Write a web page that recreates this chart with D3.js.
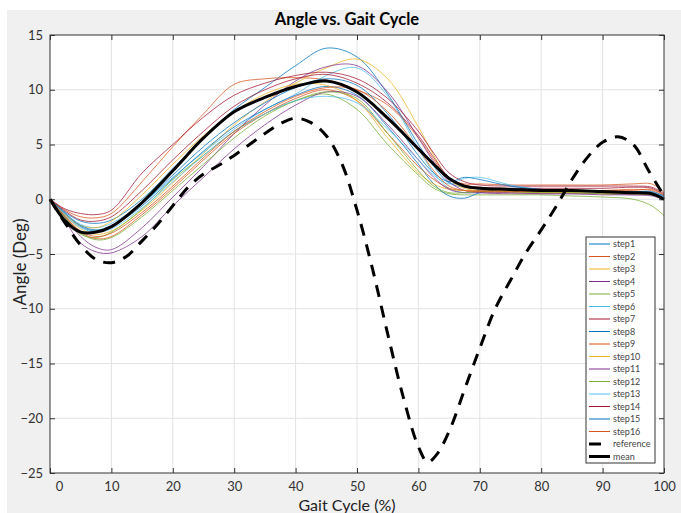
<!DOCTYPE html>
<html>
<head>
<meta charset="utf-8">
<script src="https://cdn.jsdelivr.net/npm/d3@7"></script>
<style>
body { margin: 0; background: #fff; }
text { font-family: Lato, "Open Sans", sans-serif; }
</style>
</head>
<body>
<div id="chart"></div>
<script>
// gait cycle sample points (%) for the steps and the mean
const gait = [0, 2.5, 5, 7.5, 10, 15, 20, 25, 30, 35, 40, 45, 50, 55, 60, 62.5, 65, 67.5, 70, 75, 80, 85, 90, 95, 98, 100];

const step1  = [0, -1.2, -2.0, -2.2, -1.9, 0.0, 2.8, 5.6, 8.2, 10.2, 12.2, 13.8, 13.0, 9.6, 5.0, 3.0, 1.5, 1.1, 1.0, 0.9, 0.9, 0.8, 0.7, 0.7, 0.6, 0.2];
const step2  = [0, -1.0, -1.6, -1.7, -1.3, 1.6, 4.8, 7.8, 10.5, 11.0, 11.1, 10.9, 10.0, 8.6, 5.6, 3.6, 1.9, 1.4, 1.4, 1.3, 1.3, 1.3, 1.3, 1.4, 1.4, 0.6];
const step3  = [0, -1.5, -2.7, -3.2, -2.9, -1.0, 1.5, 4.2, 6.8, 8.9, 10.6, 12.0, 12.8, 11.0, 6.6, 4.0, 1.8, 1.0, 0.8, 0.7, 0.6, 0.6, 0.5, 0.5, 0.4, 0.0];
const step4  = [0, -1.7, -3.4, -4.4, -4.6, -2.6, 0.2, 3.0, 6.0, 8.6, 10.8, 12.1, 12.2, 9.8, 5.6, 3.4, 1.6, 0.8, 0.6, 0.5, 0.5, 0.5, 0.4, 0.4, 0.3, 0.0];
const step5  = [0, -1.8, -3.2, -3.5, -3.0, -0.9, 1.8, 4.0, 6.2, 7.8, 9.0, 9.6, 8.2, 5.0, 2.2, 1.0, 0.5, 0.4, 0.4, 0.4, 0.4, 0.3, 0.2, 0.0, -0.6, -1.5];
const step6  = [0, -1.3, -2.3, -2.6, -2.2, -0.4, 2.0, 4.3, 6.4, 8.2, 9.6, 11.3, 12.0, 9.4, 4.6, 2.4, 1.0, 0.6, 0.8, 0.9, 0.8, 0.8, 0.7, 0.7, 0.6, 0.2];
const step7  = [0, -0.9, -1.3, -1.4, -1.0, 2.4, 5.0, 7.5, 9.5, 10.6, 11.3, 11.6, 11.0, 9.2, 6.2, 4.2, 2.4, 1.6, 1.3, 1.2, 1.2, 1.2, 1.2, 1.2, 1.1, 0.5];
const step8  = [0, -1.4, -2.5, -2.9, -2.5, -0.6, 1.9, 4.4, 6.6, 8.2, 9.5, 10.3, 9.5, 6.6, 3.2, 1.4, 0.3, 0.1, 0.6, 1.0, 0.9, 0.8, 0.7, 0.6, 0.5, 0.1];
const step9  = [0, -1.6, -3.0, -3.6, -3.4, -1.4, 1.0, 3.6, 6.0, 7.8, 9.2, 10.0, 9.0, 6.0, 3.0, 1.8, 1.0, 0.8, 0.8, 0.8, 0.8, 0.8, 0.8, 0.9, 0.8, 0.3];
const step10 = [0, -1.4, -2.4, -2.6, -2.0, 0.4, 3.2, 5.8, 8.0, 9.6, 10.5, 10.4, 9.0, 5.6, 2.4, 1.4, 0.9, 0.8, 0.7, 0.6, 0.6, 0.6, 0.5, 0.5, 0.4, 0.0];
const step11 = [0, -2.0, -4.0, -4.8, -4.9, -3.4, -0.6, 2.0, 4.6, 6.8, 8.6, 9.8, 9.4, 6.8, 3.6, 2.0, 0.9, 0.6, 0.6, 0.6, 0.5, 0.5, 0.5, 0.4, 0.4, 0.0];
const step12 = [0, -1.7, -3.1, -3.7, -3.5, -1.6, 0.8, 3.2, 5.6, 7.6, 9.0, 9.8, 9.2, 6.0, 2.6, 1.2, 0.6, 0.6, 0.7, 0.7, 0.6, 0.6, 0.5, 0.5, 0.4, 0.0];
const step13 = [0, -1.5, -2.6, -3.0, -2.7, -0.8, 1.6, 4.0, 6.2, 7.8, 9.0, 9.4, 8.8, 6.4, 3.6, 2.2, 1.4, 1.9, 2.0, 1.3, 0.9, 0.8, 0.7, 0.7, 0.6, 0.2];
const step14 = [0, -1.1, -1.9, -2.0, -1.6, 0.8, 3.6, 6.2, 8.5, 10.0, 11.0, 11.4, 10.6, 8.8, 5.8, 3.8, 2.0, 1.3, 1.1, 1.0, 1.0, 1.0, 1.0, 1.1, 1.0, 0.4];
const step15 = [0, -1.3, -2.4, -2.8, -2.4, -0.4, 2.2, 4.8, 7.0, 8.8, 10.2, 11.0, 10.4, 7.8, 4.0, 2.4, 1.6, 2.0, 1.8, 1.2, 0.9, 0.8, 0.8, 0.7, 0.7, 0.3];
const step16 = [0, -1.6, -2.9, -3.4, -3.1, -1.2, 1.2, 3.8, 6.2, 8.0, 9.4, 10.2, 10.0, 8.0, 4.6, 2.6, 1.2, 0.8, 0.7, 0.7, 0.7, 0.7, 0.8, 0.8, 0.9, 0.4];

const meanAngle = [0, -2.0, -3.0, -3.0, -2.5, -0.3, 2.6, 5.6, 8.0, 9.3, 10.3, 10.8, 9.8, 7.4, 4.6, 3.2, 1.9, 1.2, 1.0, 0.9, 0.8, 0.8, 0.7, 0.6, 0.5, 0.0];

// reference curve has its own sample points
const refGait  = [0, 2.5, 5, 7.5, 10, 12.5, 15, 17.5, 20, 22.5, 25, 27.5, 30, 32.5, 35, 37.5, 40, 42.5, 45, 47.5, 50, 52.5, 55, 57.5, 60, 61.5, 63, 65, 67.5, 70, 72.5, 75, 77.5, 80, 82.5, 85, 87.5, 90, 92.5, 95, 97.5, 100];
const refAngle = [0, -2.2, -4.2, -5.5, -5.8, -5.2, -3.8, -2.3, -0.6, 1.1, 2.3, 3.1, 4.0, 5.0, 6.0, 6.9, 7.4, 7.0, 5.8, 3.3, -1.0, -6.3, -12.3, -18.0, -22.6, -24.0, -23.3, -21.2, -17.4, -13.6, -10.0, -7.4, -4.9, -2.8, -0.6, 1.8, 3.8, 5.2, 5.7, 5.0, 2.6, 0.3];

const steps = [step1, step2, step3, step4, step5, step6, step7, step8, step9, step10, step11, step12, step13, step14, step15, step16];
const stepNames = steps.map((s, i) => "step" + (i + 1));
const xTicks = [0, 10, 20, 30, 40, 50, 60, 70, 80, 90, 100];
const yTicks = [-25, -20, -15, -10, -5, 0, 5, 10, 15];
const colors = ["#0072BD", "#D95319", "#EDB120", "#7E2F8E", "#77AC30", "#4DBEEE", "#A2142F"];

const margin = {top: 35, right: 17, bottom: 40, left: 50},
    width = 614,
    height = 438;

const svg = d3.select("#chart")
  .append("svg")
    .attr("width", 681)
    .attr("height", 513);

// figure background
svg.append("rect")
  .attr("x", 7).attr("y", 10)
  .attr("width", 674).attr("height", 503)
  .attr("fill", "#f0f0f0");

const g = svg.append("g")
  .attr("transform", "translate(" + margin.left + "," + margin.top + ")");

g.append("rect")
  .attr("width", width).attr("height", height)
  .attr("fill", "#fff");

const x = d3.scaleLinear().domain([0, 100]).range([0, width]);
const y = d3.scaleLinear().domain([-25, 15]).range([height, 0]);

// grid
g.append("g").selectAll("line").data(xTicks.slice(1, -1)).join("line")
  .attr("x1", d => x(d)).attr("x2", d => x(d))
  .attr("y1", 0).attr("y2", height)
  .attr("stroke", "#e3e3e3");
g.append("g").selectAll("line").data(yTicks.slice(1, -1)).join("line")
  .attr("y1", d => y(d)).attr("y2", d => y(d))
  .attr("x1", 0).attr("x2", width)
  .attr("stroke", "#e3e3e3");

// axes, ticks inside like matlab
const xAxis = g.append("g")
  .attr("transform", "translate(0," + height + ")")
  .call(d3.axisBottom(x).tickValues(xTicks).tickSizeInner(-5).tickSizeOuter(0).tickPadding(9));
xAxis.selectAll("text").filter(d => d === 0).attr("dx", 9);
g.append("g")
  .call(d3.axisTop(x).tickValues(xTicks).tickSizeInner(-5).tickSizeOuter(0).tickFormat(""));
g.append("g")
  .call(d3.axisLeft(y).tickValues(yTicks).tickSizeInner(-5).tickSizeOuter(0).tickPadding(7));
g.append("g")
  .attr("transform", "translate(" + width + ",0)")
  .call(d3.axisRight(y).tickValues(yTicks).tickSizeInner(-5).tickSizeOuter(0).tickFormat(""));
g.selectAll(".domain").remove();
g.selectAll(".tick line").attr("stroke", "#333");
g.selectAll(".tick text").attr("fill", "#333").style("font-size", "13px");

const line = d3.line()
  .x((d, i) => x(gait[i]))
  .y(d => y(d))
  .curve(d3.curveCatmullRom.alpha(0.5));

g.append("g").selectAll("path").data(steps).join("path")
  .attr("fill", "none")
  .attr("stroke", (d, i) => colors[i % 7])
  .attr("stroke-opacity", 0.75)
  .attr("stroke-width", 1)
  .attr("d", line);

g.append("path")
  .attr("fill", "none")
  .attr("stroke", "#000")
  .attr("stroke-width", 3)
  .attr("stroke-dasharray", "12,9")
  .attr("d", d3.line()
      .x((d, i) => x(refGait[i]))
      .y(d => y(d))
      .curve(d3.curveCatmullRom.alpha(0.5))(refAngle));

g.append("path")
  .attr("fill", "none")
  .attr("stroke", "#000")
  .attr("stroke-width", 3)
  .attr("d", line(meanAngle));

// axes box
g.append("rect")
  .attr("width", width).attr("height", height)
  .attr("fill", "none")
  .attr("stroke", "#333");

// titles
svg.append("text")
  .attr("x", 347).attr("y", 25)
  .attr("text-anchor", "middle")
  .style("font-size", "16.5px").style("font-weight", "bold")
  .text("Angle vs. Gait Cycle");
svg.append("text")
  .attr("x", 347).attr("y", 511)
  .attr("text-anchor", "middle")
  .attr("fill", "#222")
  .style("font-size", "16px")
  .text("Gait Cycle (%)");
svg.append("text")
  .attr("transform", "translate(26,262) rotate(-90)")
  .attr("text-anchor", "middle")
  .attr("fill", "#222")
  .style("font-size", "17px")
  .text("Angle (Deg)");

// legend
const legendItems = stepNames.map((n, i) => ({name: n, color: colors[i % 7], w: 1, dash: null}))
  .concat([{name: "reference", color: "#000", w: 3, dash: "12,9"}, {name: "mean", color: "#000", w: 3, dash: null}]);
const legend = svg.append("g").attr("transform", "translate(586,237)");
legend.append("rect")
  .attr("width", 69).attr("height", 226)
  .attr("fill", "#fff").attr("stroke", "#333");
const item = legend.selectAll("g").data(legendItems).join("g")
  .attr("transform", (d, i) => "translate(0," + (7 + i * 12.5) + ")");
item.append("line")
  .attr("x1", 3).attr("x2", 24)
  .attr("stroke", d => d.color)
  .attr("stroke-width", d => d.w)
  .attr("stroke-dasharray", d => d.dash);
item.append("text")
  .attr("x", 27).attr("dy", "0.35em")
  .attr("fill", "#444")
  .style("font-size", "9px")
  .text(d => d.name);
</script>
</body>
</html>
